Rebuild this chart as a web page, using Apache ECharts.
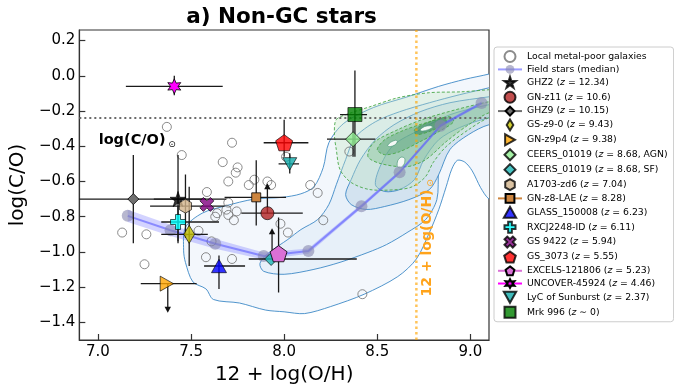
<!DOCTYPE html>
<html>
<head>
<meta charset="utf-8">
<script src="https://cdn.jsdelivr.net/npm/echarts@6/dist/echarts.min.js"></script>
<style>html,body{margin:0;padding:0;background:#fff}#chart{width:674px;height:390px}</style>
</head>
<body>
<div id="chart"></div>
<script>
// axis ticks
const xTicks = [7.0, 7.5, 8.0, 8.5, 9.0]
const yTicks = [-1.4, -1.2, -1.0, -0.8, -0.6, -0.4, -0.2, 0.0, 0.2]
// solar references
const solarCO = -0.24
const solarOH = 8.71

// local metal-poor galaxies
const localOH = [7.37, 7.45, 7.72, 7.67, 7.75, 7.74, 7.70, 7.585, 7.81, 7.84, 7.91, 7.93, 8.01, 8.35, 7.13, 7.26, 7.25, 7.54, 7.61, 7.58, 7.72, 7.63, 7.64, 7.69, 7.70, 7.745, 7.73, 7.70, 7.98, 8.02, 8.14, 8.18, 8.21, 8.42]
const localCO = [-0.29, -0.45, -0.38, -0.49, -0.52, -0.55, -0.60, -0.66, -0.62, -0.59, -0.60, -0.62, -0.46, -0.43, -0.89, -0.90, -1.07, -0.88, -0.94, -1.03, -1.04, -0.80, -0.78, -0.76, -0.79, -0.77, -0.82, -0.72, -0.84, -0.89, -0.62, -0.665, -0.82, -1.24]

// field stars median
const fieldOH = [7.16, 7.39, 7.63, 7.89, 8.13, 8.415, 8.62, 8.84, 9.06]
const fieldCO = [-0.795, -0.877, -0.954, -1.023, -0.995, -0.740, -0.547, -0.283, -0.155]
const fieldErr = [0.035, 0.032, 0.028, 0.02, 0.015, 0.012, 0.01, 0.01, 0.01]

// high-z / individual objects
const objNames = ['GHZ2', 'GN-z11', 'GHZ9', 'GS-z9-0', 'GN-z9p4', 'CEERS_01019', 'CEERS_01019', 'A1703-zd6', 'GN-z8-LAE', 'GLASS_150008', 'RXCJ2248-ID', 'GS 9422', 'GS_3073', 'EXCELS-121806', 'UNCOVER-45924', 'LyC of Sunburst', 'Mrk 996']
const objZ = ['= 12.34', '= 10.6', '= 10.15', '= 9.43', '= 9.38', '= 8.68, AGN', '= 8.68, SF', '= 7.04', '= 8.28', '= 6.23', '= 6.11', '= 5.94', '= 5.55', '= 5.23', '= 4.46', '= 2.37', '\u223c 0']
const objX = [7.43, 7.91, 7.19, 7.49, 7.37, 8.37, 7.93, 7.47, 7.85, 7.65, 7.43, 7.585, 8.00, 7.97, 7.41, 8.03, 8.38]
const objY = [-0.70, -0.78, -0.70, -0.90, -1.18, -0.36, -1.04, -0.74, -0.69, -1.08, -0.83, -0.73, -0.38, -1.01, -0.06, -0.50, -0.22]
const objXLo = [7.30, 7.77, 6.85, 7.34, 7.23, 8.23, 7.81, 7.28, 7.68, 7.57, 7.34, null, 7.89, null, 7.15, 7.97, 8.30]
const objXHi = [7.58, 8.10, 7.69, 7.59, 7.53, 8.49, 8.39, 7.68, 8.01, 7.79, 7.65, null, 8.13, null, 7.67, 8.08, 8.445]
const objYHi = [-0.45, null, -0.45, -0.63, null, -0.26, null, -0.56, -0.48, -1.02, -0.74, null, -0.25, -0.805, 0.0, -0.44, 0.03]
const objYLo = [-0.95, null, -0.95, -1.08, null, -0.46, null, -0.92, -0.85, -1.21, -0.94, null, -0.46, -1.23, -0.11, -0.555, -0.46]

// limits (arrows): x, from, to
const limitX = [7.91, 7.935, 7.375]
const limitFrom = [-0.78, -1.03, -1.18]
const limitTo = [-0.61, -0.865, -1.345]

// field star density contours (blue, solid)
const blue1 = [[7.46, -0.99], [7.47, -0.86], [7.56, -0.78], [7.68, -0.74], [7.84, -0.70], [7.99, -0.69], [8.09, -0.67], [8.16, -0.63], [8.21, -0.52], [8.24, -0.38], [8.32, -0.27], [8.48, -0.18], [8.66, -0.12], [8.83, -0.06], [8.97, -0.02], [9.10, 0.01], [9.16, 0.03], [9.16, -0.72], [9.10, -0.70], [9.055, -0.635], [9.01, -0.54], [8.97, -0.49], [8.93, -0.48], [8.90, -0.53], [8.87, -0.63], [8.83, -0.76], [8.78, -0.89], [8.71, -1.04], [8.61, -1.14], [8.43, -1.24], [8.25, -1.31], [8.11, -1.35], [8.00, -1.34], [7.90, -1.33], [7.76, -1.29], [7.62, -1.27], [7.58, -1.21], [7.51, -1.17], [7.47, -1.06]]
const blue2 = [[7.87, -1.065], [7.92, -1.003], [8.02, -0.929], [8.09, -0.873], [8.18, -0.816], [8.24, -0.731], [8.28, -0.618], [8.33, -0.476], [8.38, -0.351], [8.49, -0.261], [8.62, -0.204], [8.78, -0.153], [8.94, -0.108], [9.10, -0.068], [9.16, -0.05], [9.16, -0.21], [9.10, -0.193], [9.03, -0.232], [8.92, -0.306], [8.85, -0.459], [8.83, -0.533], [8.82, -0.703], [8.76, -0.816], [8.66, -0.890], [8.55, -0.958], [8.45, -1.003], [8.30, -1.059], [8.16, -1.099], [8.00, -1.127], [7.89, -1.110]]
const blue3 = [[8.36, -0.731], [8.33, -0.674], [8.36, -0.589], [8.41, -0.476], [8.49, -0.363], [8.59, -0.278], [8.73, -0.204], [8.89, -0.153], [9.10, -0.119], [9.16, -0.11], [9.16, -0.29], [9.10, -0.278], [8.99, -0.334], [8.89, -0.419], [8.83, -0.561], [8.78, -0.646], [8.67, -0.703], [8.54, -0.742], [8.44, -0.759]]
const blue4 = [[8.49, -0.618], [8.52, -0.504], [8.59, -0.391], [8.73, -0.306], [8.89, -0.221], [9.10, -0.164], [9.16, -0.16], [9.16, -0.24], [9.10, -0.238], [8.94, -0.295], [8.83, -0.363], [8.75, -0.476], [8.70, -0.589], [8.62, -0.646], [8.54, -0.657]]

// second population contours (green, dashed)
const green1 = [[8.28, -0.249], [8.36, -0.210], [8.46, -0.176], [8.61, -0.125], [8.78, -0.096], [8.95, -0.091], [9.10, -0.079], [9.16, -0.075], [9.16, -0.24], [9.10, -0.238], [8.99, -0.306], [8.87, -0.402], [8.80, -0.493], [8.76, -0.572], [8.69, -0.629], [8.61, -0.646], [8.46, -0.646], [8.36, -0.606], [8.30, -0.533], [8.28, -0.419], [8.27, -0.334]]
const green2 = [[8.45, -0.459], [8.48, -0.380], [8.61, -0.306], [8.74, -0.249], [8.92, -0.193], [9.10, -0.147], [9.16, -0.14], [9.16, -0.215], [9.10, -0.210], [8.99, -0.278], [8.87, -0.374], [8.76, -0.476], [8.66, -0.516], [8.52, -0.499]]
const green3 = [[8.50, -0.419], [8.54, -0.363], [8.65, -0.306], [8.78, -0.261], [8.89, -0.232], [8.91, -0.261], [8.83, -0.317], [8.73, -0.374], [8.62, -0.431], [8.54, -0.448]]
const green4 = [[8.70, -0.306], [8.78, -0.261], [8.86, -0.238], [8.87, -0.266], [8.79, -0.312], [8.71, -0.334]]
const holes = [
  [[8.555, -0.398], [8.572, -0.377], [8.598, -0.366], [8.608, -0.372], [8.596, -0.392], [8.570, -0.402]],
  [[8.73, -0.308], [8.752, -0.289], [8.785, -0.283], [8.798, -0.291], [8.775, -0.306], [8.742, -0.314]],
  [[8.608, -0.515], [8.610, -0.482], [8.628, -0.462], [8.647, -0.468], [8.645, -0.500], [8.625, -0.522]]
]

const FONT = 'DejaVu Sans'

function poly(n, r0, r1, rot) {
  const m = r1 ? 2 * n : n
  const pts = []
  for (let k = 0; k < m; k++) {
    const a = -Math.PI / 2 + k * 2 * Math.PI / m + (rot || 0)
    const r = (r1 && k % 2) ? r1 : r0
    pts.push((r * Math.cos(a)).toFixed(3) + ',' + (r * Math.sin(a)).toFixed(3))
  }
  return 'path://M' + pts.join(' L') + ' Z'
}
function rotPath(pts, ang) {
  const c = Math.cos(ang), s = Math.sin(ang)
  return 'path://M' + pts.map(p => (p[0] * c - p[1] * s).toFixed(3) + ',' + (p[0] * s + p[1] * c).toFixed(3)).join(' L') + ' Z'
}
const plusPts = [[-1, -3], [1, -3], [1, -1], [3, -1], [3, 1], [1, 1], [1, 3], [-1, 3], [-1, 1], [-3, 1], [-3, -1], [-1, -1]]
const SYM = {
  star5: poly(5, 10, 3.82),
  star6: poly(6, 10, 5.0),
  hex: poly(6, 10),
  pent: poly(5, 10),
  plus: rotPath(plusPts, 0),
  cross: rotPath(plusPts, Math.PI / 4),
  thinDiamond: 'path://M0,-10 L6,0 L0,10 L-6,0 Z',
  diamond: 'path://M0,-10 L10,0 L0,10 L-10,0 Z',
  triUp: 'path://M0,-9 L9,7 L-9,7 Z',
  triDown: 'path://M0,9 L9,-7 L-9,-7 Z',
  triRight: 'path://M9,0 L-7,9 L-7,-9 Z',
  square: 'path://M-10,-10 L10,-10 L10,10 L-10,10 Z',
  circle: 'circle'
}
// marker style per object (same order as objNames)
const objSym = ['star5', 'circle', 'diamond', 'thinDiamond', 'triRight', 'diamond', 'diamond', 'hex', 'square', 'triUp', 'plus', 'cross', 'pent', 'pent', 'star6', 'triDown', 'square']
const objSize = [16, 13, 11, 18, 15, 15, 13, 14, 9, 15, 15, 14, 17, 17, 15, 14, 14]
const objColor = ['#000000', '#b22222', '#707070', '#c8c400', '#ffa500', '#90ee90', '#1cb5b5', '#d2b48c', '#cd853f', '#0000ff', '#00ffff', '#800080', '#ff0000', '#da70d6', '#ff00ff', '#10aaaa', '#008000']
const objLine = [false, false, true, false, false, false, false, false, true, false, false, false, false, true, true, false, false]

function clipOf(params) {
  const cs = params.coordSys
  return { type: 'rect', shape: { x: cs.x, y: cs.y, width: cs.width, height: cs.height } }
}

function contourSeries(polys, fills, stroke, dash, z, lw) {
  return {
    type: 'custom',
    silent: true,
    z: z,
    clip: true,
    data: polys.map(p => p[0]),
    renderItem: (params, api) => {
      const p = polys[params.dataIndex]
      return {
        type: 'polygon',
        shape: { points: p.map(v => api.coord(v)), smooth: 0.3 },
        style: { fill: fills[params.dataIndex], stroke: stroke, lineWidth: lw || 0.9, lineDash: dash },
        clipPath: clipOf(params)
      }
    }
  }
}

const objLabels = objNames.map((n, i) => n + ' (z ' + objZ[i] + ')')

const series = []
series.push(contourSeries([blue1, blue2, blue3, blue4], ['#f3f7fc', '#e7f0f9', '#d3e3f0', '#b6d0e4'], '#3d89c6', null, 1))
series.push(contourSeries([green1, green2, green3, green4], ['rgba(195,230,195,0.35)', 'rgba(130,195,140,0.38)', 'rgba(70,150,100,0.35)', 'rgba(40,120,80,0.4)'], '#4aa84a', [3, 2], 2))
series.push(contourSeries(holes, ['#f4f9f6', '#f4f9f6', '#f4f9f6'], '#4f9a7c', null, 3, 0.7))

// reference lines
series.push({
  type: 'line', silent: true, z: 4, symbol: 'none',
  data: [[6.9, solarCO], [9.1, solarCO]],
  lineStyle: { color: '#6a6a6a', width: 2, type: [2, 3] }
})
series.push({
  type: 'line', silent: true, z: 4, symbol: 'none',
  data: [[solarOH, -1.5], [solarOH, 0.26]],
  lineStyle: { color: 'rgba(255,165,0,0.65)', width: 2.5, type: [2.5, 3] }
})

// field band
series.push({
  type: 'custom', silent: true, z: 5, clip: true,
  data: [[fieldOH[0], fieldCO[0]]],
  renderItem: (params, api) => {
    const up = fieldOH.map((x, i) => api.coord([x, fieldCO[i] + fieldErr[i]]))
    const lo = fieldOH.map((x, i) => api.coord([x, fieldCO[i] - fieldErr[i]])).reverse()
    return { type: 'polygon', shape: { points: up.concat(lo) }, style: { fill: 'rgba(110,110,255,0.3)' }, clipPath: clipOf(params) }
  }
})

series.push({
  name: 'Local metal-poor galaxies', type: 'scatter', z: 6,
  symbol: 'circle', symbolSize: 9,
  itemStyle: { color: 'rgba(255,255,255,0)', borderColor: '#6e6e6e', borderWidth: 1 },
  data: localOH.map((x, i) => [x, localCO[i]])
})
series.push({
  name: 'Field stars (median)', type: 'line', z: 7,
  symbol: 'circle', symbolSize: 12,
  itemStyle: { color: 'rgba(135,135,175,0.6)' },
  lineStyle: { color: 'rgba(90,90,255,0.6)', width: 2 },
  data: fieldOH.map((x, i) => [x, fieldCO[i]])
})

// error bars
series.push({
  type: 'custom', silent: true, z: 8, clip: true,
  data: objX.map((x, i) => [x, objY[i]]),
  renderItem: (params, api) => {
    const i = params.dataIndex
    const kids = []
    const st = { stroke: '#1a1a1a', lineWidth: 1.3 }
    if (objXLo[i] !== null) {
      const a = api.coord([objXLo[i], objY[i]]), b = api.coord([objXHi[i], objY[i]])
      kids.push({ type: 'line', shape: { x1: a[0], y1: a[1], x2: b[0], y2: b[1] }, style: st })
    }
    if (objYLo[i] !== null) {
      const a = api.coord([objX[i], objYHi[i]]), b = api.coord([objX[i], objYLo[i]])
      kids.push({ type: 'line', shape: { x1: a[0], y1: a[1], x2: b[0], y2: b[1] }, style: st })
    }
    return { type: 'group', children: kids, clipPath: clipOf(params) }
  }
})
// limit arrows
series.push({
  type: 'custom', silent: true, z: 8,
  data: limitX.map((x, i) => [x, limitTo[i]]),
  renderItem: (params, api) => {
    const i = params.dataIndex
    const a = api.coord([limitX[i], limitFrom[i]]), b = api.coord([limitX[i], limitTo[i]])
    const s = b[1] < a[1] ? 1 : -1
    return {
      type: 'group', children: [
        { type: 'line', shape: { x1: a[0], y1: a[1], x2: b[0], y2: b[1] + 5 * s }, style: { stroke: '#1a1a1a', lineWidth: 1.3 } },
        { type: 'polygon', shape: { points: [[b[0], b[1]], [b[0] - 3.2, b[1] + 6 * s], [b[0] + 3.2, b[1] + 6 * s]] }, style: { fill: '#111' } }
      ]
    }
  }
})

objNames.forEach((n, i) => {
  const s = {
    name: objLabels[i], type: objLine[i] ? 'line' : 'scatter', z: 10,
    symbol: SYM[objSym[i]], symbolSize: objSize[i], symbolKeepAspect: true,
    itemStyle: { color: objColor[i], borderColor: '#000', borderWidth: 0.8 },
    data: [[objX[i], objY[i]]]
  }
  if (objLine[i]) {
    s.showSymbol = true
    s.lineStyle = { color: objColor[i], width: 1.5 }
  }
  series.push(s)
})

// text annotations
series.push({
  type: 'custom', silent: true, z: 12,
  data: [[7.0, -0.37]],
  renderItem: (params, api) => {
    const p1 = api.coord([7.004, -0.368])
    const p2 = api.coord([7.398, -0.389])
    const p3 = api.coord([8.77, -0.949])
    const p4 = api.coord([8.789, -0.608])
    return {
      type: 'group', children: [
        { type: 'text', x: p1[0], y: p1[1], style: { text: 'log(C/O)', font: 'bold 14.5px ' + FONT, fill: '#000', textAlign: 'left', textVerticalAlign: 'middle' } },
        { type: 'text', x: p2[0], y: p2[1], style: { text: '\u2299', font: '9px ' + FONT, fill: '#000', textAlign: 'center', textVerticalAlign: 'middle' } },
        { type: 'text', x: p3[0], y: p3[1], rotation: Math.PI / 2, style: { text: '12 + log(O/H)', font: 'bold 14px ' + FONT, fill: '#ffa31a', textAlign: 'center', textVerticalAlign: 'middle' } },
        { type: 'text', x: p4[0], y: p4[1], rotation: Math.PI / 2, style: { text: '\u2299', font: '9px ' + FONT, fill: '#ffa31a', textAlign: 'center', textVerticalAlign: 'middle' } }
      ]
    }
  }
})

const fmt = v => (v < 0 ? '\u2212' : '') + Math.abs(v).toFixed(1)

const chart = echarts.init(document.getElementById('chart'))
chart.setOption({
  animation: false,
  backgroundColor: '#fff',
  textStyle: { fontFamily: FONT },
  graphic: [{
    type: 'text', x: 281.5, y: 17,
    style: { text: 'a) Non-GC stars', font: 'bold 21.5px ' + FONT, fill: '#000', textAlign: 'center', textVerticalAlign: 'middle' }
  }],
  grid: { left: 74, right: 185, top: 30, bottom: 50, show: true, borderColor: '#333', borderWidth: 1.2, backgroundColor: 'transparent' },
  xAxis: {
    type: 'value', min: 6.9, max: 9.1, position: 'bottom',
    name: '12 + log(O/H)', nameLocation: 'middle', nameGap: 21,
    nameTextStyle: { fontSize: 20, fontFamily: FONT, color: '#000' },
    axisLine: { show: true, onZero: false, onZeroAxisIndex: 1, lineStyle: { color: '#333', width: 1.2 } },
    axisTick: { inside: true, length: 6, customValues: xTicks, lineStyle: { color: '#333', width: 1.2 } },
    axisLabel: { customValues: xTicks, formatter: fmt, fontSize: 15, fontFamily: FONT, color: '#000', margin: 5 },
    splitLine: { show: false }
  },
  yAxis: [{
    type: 'value', min: -1.5, max: 0.26, position: 'left',
    name: 'log(C/O)', nameLocation: 'middle', nameGap: 48,
    nameTextStyle: { fontSize: 20, fontFamily: FONT, color: '#000' },
    axisLine: { show: true, onZero: false, lineStyle: { color: '#333', width: 1.2 } },
    axisTick: { show: true, inside: true, length: 6, customValues: yTicks, lineStyle: { color: '#333', width: 1.2 } },
    axisLabel: { customValues: yTicks, formatter: fmt, fontSize: 15, fontFamily: FONT, color: '#000', margin: 4 },
    splitLine: { show: false }
  }, {
    // helper axis without zero, keeps the x axis at the bottom edge
    type: 'value', min: 1, max: 2, position: 'right', show: false
  }],
  legend: {
    data: ['Local metal-poor galaxies', 'Field stars (median)'].concat(objLabels),
    orient: 'vertical', left: 494, top: 47,
    padding: [3, 6, 3, 3],
    itemWidth: 24, itemHeight: 11, itemGap: 1.92,
    backgroundColor: '#fff', borderColor: '#cccccc', borderWidth: 1, borderRadius: 3,
    selectedMode: false,
    formatter: name => {
      const k = name.indexOf('(z')
      if (k < 0) return '{n|' + name + '}'
      return '{n|' + name.slice(0, k + 1) + '}{i|z}{n|' + name.slice(k + 2) + '}'
    },
    textStyle: {
      fontFamily: FONT, fontSize: 9.3, color: '#000',
      rich: {
        n: { fontFamily: FONT, fontSize: 9.3, lineHeight: 12, color: '#000' },
        i: { fontFamily: FONT, fontSize: 9.3, lineHeight: 12, fontStyle: 'italic', color: '#000' }
      }
    }
  },
  series: series
})
</script>
</body>
</html>
